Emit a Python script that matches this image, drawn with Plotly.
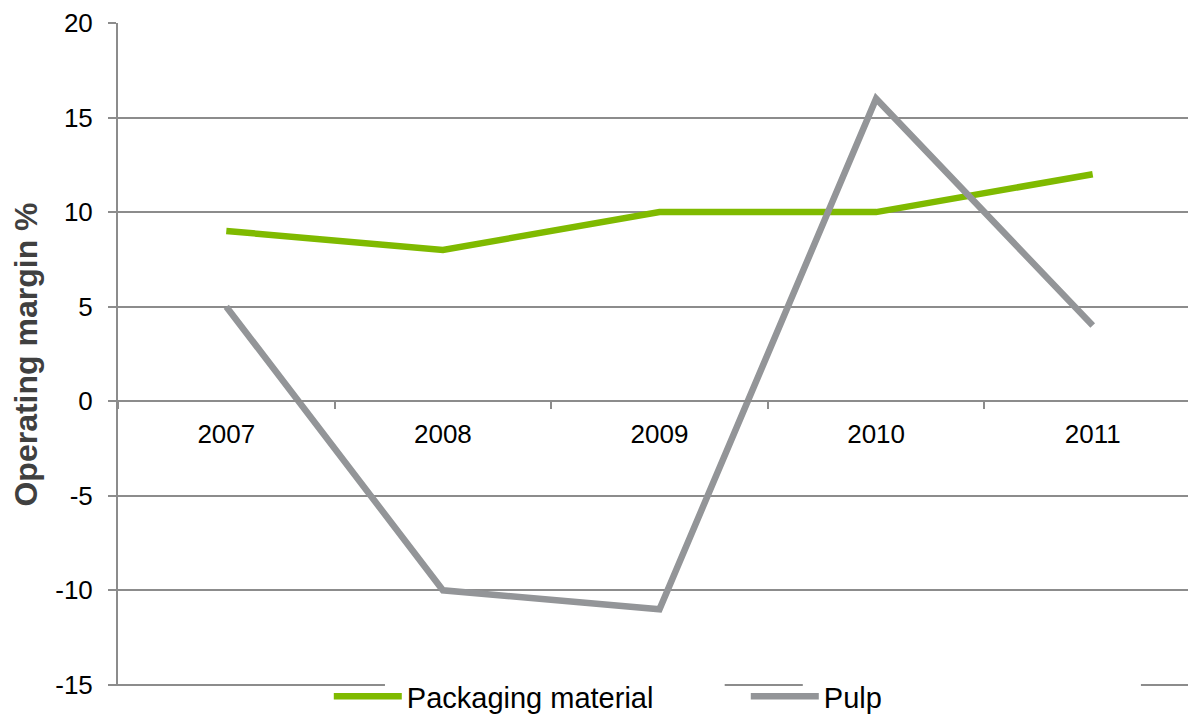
import plotly.graph_objects as go

years = ["2007", "2008", "2009", "2010", "2011"]
packaging = [9, 8, 10, 10, 12]
pulp = [5, -10, -11, 16, 4]
y_ticks = [-15, -10, -5, 0, 5, 10, 15, 20]
y_tick_text = [str(v) for v in y_ticks]

GREEN = "#7fba00"
GRAY_LINE = "#939598"
GRID = "#8c8c8c"
FONT = "Liberation Sans, Arial, sans-serif"

fig = go.Figure()
fig.add_trace(go.Scatter(x=years, y=packaging, mode="lines", name="Packaging material",
                         line=dict(color=GREEN, width=6.5)))
fig.add_trace(go.Scatter(x=years, y=pulp, mode="lines", name="Pulp",
                         line=dict(color=GRAY_LINE, width=6.5)))

# white boxes behind the legend labels (they hide the bottom gridline there)
for x0, x1 in [(0.2495, 0.567), (0.640, 0.956)]:
    fig.add_shape(type="rect", xref="paper", yref="paper", x0=x0, x1=x1, y0=-0.012, y1=0.012,
                  fillcolor="white", line=dict(width=0), layer="above")

fig.update_layout(
    width=1188, height=714,
    margin=dict(l=118, r=0, t=23, b=28, autoexpand=False),
    paper_bgcolor="white", plot_bgcolor="white",
    font=dict(family=FONT, color="black"),
    showlegend=True,
    legend=dict(orientation="h", x=0.197, xanchor="left", y=0.0226, yanchor="top",
                bgcolor="rgba(0,0,0,0)", font=dict(size=29, color="black"),
                entrywidth=334, itemwidth=68, tracegroupgap=0),
    xaxis=dict(type="category", categoryorder="array", categoryarray=years,
               range=[-0.5, 4.44], anchor="free", position=15.06/35.06,
               showline=True, linecolor=GRID, linewidth=2,
               ticks="outside", tickson="boundaries", ticklen=7, tickcolor=GRID, tickwidth=1.5,
               showgrid=False, tickfont=dict(size=26, color="black"), ticklabelstandoff=10),
    yaxis=dict(range=[-15.06, 20], tickvals=y_ticks, ticktext=y_tick_text,
               showline=True, linecolor=GRID, linewidth=2,
               ticks="outside", ticklen=8, tickcolor=GRID, tickwidth=2,
               showgrid=True, gridcolor=GRID, gridwidth=2, zeroline=False,
               tickfont=dict(size=26, color="black"), ticklabelstandoff=10,
               title=dict(text="<b>Operating margin %</b>", font=dict(size=32, color="#404040"),
                          standoff=8)),
)

fig.write_html("out.html")
